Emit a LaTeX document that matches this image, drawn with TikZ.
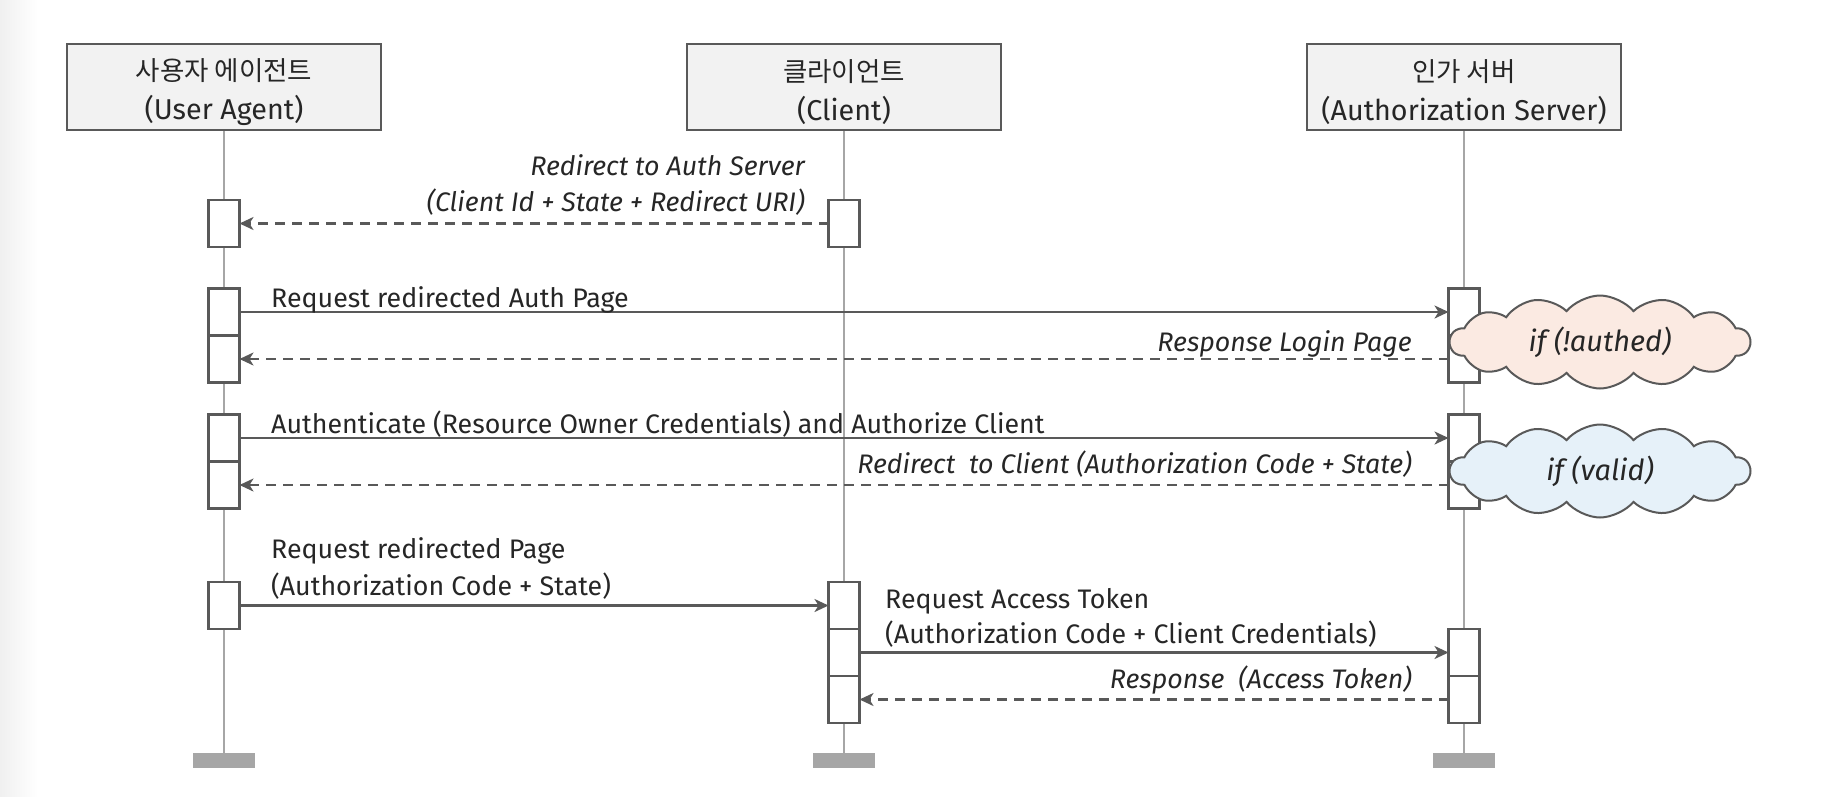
\documentclass[tikz,border=0pt]{standalone}
\usepackage{fontspec}
\setmainfont{Fira Sans}
\newfontfamily\kofont{Noto Sans CJK KR}
\usetikzlibrary{arrows.meta,positioning,shapes.symbols}
\definecolor{edge}{HTML}{595959}
\definecolor{lifec}{HTML}{A6A6A6}
\definecolor{headc}{HTML}{F2F2F2}
\definecolor{ink}{HTML}{262626}
\definecolor{cloudA}{HTML}{FBEAE2}
\definecolor{cloudB}{HTML}{E6F1F9}
\newcommand\txt{\fontsize{26.8}{37}\selectfont}
\newcommand\headtxt{\fontsize{28.7}{39}\selectfont}
\newcommand\kotxt{\kofont\fontsize{26.5}{39}\selectfont}

\begin{document}
\begin{tikzpicture}[x=1pt,y=-1pt,font=\txt,text=ink]

		\tikzset{actor/.style={draw=edge,line width=2pt,fill=headc,minimum width=314pt,minimum height=86pt,align=center,inner sep=0pt,font=\headtxt},
			bar/.style={fill=lifec,minimum width=62pt,minimum height=15pt,inner sep=0pt},
			act/.style={draw=edge,line width=2.2pt,fill=white,minimum width=31pt,minimum height=47pt,inner sep=0pt,outer sep=0pt},
			lifeline/.style={draw=lifec,line width=2pt},
			call/.style={draw=edge,line width=2.2pt,-{Stealth[length=14pt,width=13pt,inset=4pt]}},
			ret/.style={call,dash pattern=on 10pt off 7pt},
			lbl/.style={inner sep=0pt},
			ital/.style={inner sep=0pt,font=\txt\itshape},
			note/.style={cloud,draw=edge,line width=2pt,cloud puffs=14,cloud puff arc=100,aspect=3.75,minimum width=300pt,minimum height=93pt,inner sep=0pt,font=\fontsize{29}{34}\selectfont\itshape}}
		\useasboundingbox (0,0) rectangle (1846,796);
		\shade[left color=black!6,right color=white] (0,0) rectangle (38,796);

	    \node[actor] (ua) at (224,87) {\rule{0pt}{32pt}{\kotxt 사용자 에이전트}\\(User Agent)};
	    \node[actor] (cl) at (844,87) {\rule{0pt}{32pt}{\kotxt 클라이언트}\\(Client)};
	    \node[actor] (as) at (1464,87) {\rule{0pt}{32pt}{\kotxt 인가 서버}\\(Authorization Server)};
	    \node[bar] (uabar) at (224,760.5) {};
	    \node[bar] (clbar) at (844,760.5) {};
	    \node[bar] (asbar) at (1464,760.5) {};
	    \draw[lifeline] (ua) -- (uabar);
	    \draw[lifeline] (cl) -- (clbar);
	    \draw[lifeline] (as) -- (asbar);

	    \node[act] (ua1) at (224,223.5) {};
	    \node[act] (cl1) at (844,223.5) {};
	    \node[act] (ua2a) at (224,312) {};
	    \node[act,below=0pt of ua2a] (ua2b) {};
	    \node[act] (as2a) at (1464,312) {};
	    \node[act,below=0pt of as2a] (as2b) {};
	    \node[act] (ua4a) at (224,438) {};
	    \node[act,below=0pt of ua4a] (ua4b) {};
	    \node[act] (as4a) at (1464,438) {};
	    \node[act,below=0pt of as4a] (as4b) {};
	    \node[act] (ua6) at (224,605.5) {};
	    \node[act] (cl6a) at (844,605.5) {};
	    \node[act,below=0pt of cl6a] (cl6b) {};
	    \node[act,below=0pt of cl6b] (cl6c) {};
	    \node[act,right=589pt of cl6b] (as7a) {};
	    \node[act,below=0pt of as7a] (as7b) {};

	    \draw[ret] (cl1) -- (ua1);
	    \draw[call] (ua2a) -- (as2a);
	    \draw[ret] (as2b) -- (ua2b);
	    \draw[call] (ua4a) -- (as4a);
	    \draw[ret] (as4b) -- (ua4b);
	    \draw[call] (ua6) -- (cl6a);
	    \draw[call] (cl6b) -- (as7a);
	    \draw[ret] (as7b) -- (cl6c);

	    \node[ital,anchor=base east] (m1a) at (805,175) {Redirect to Auth Server};
	    \node[ital,anchor=base east] (m1b) at (805,211) {(Client Id + State + Redirect URI)};
	    \node[lbl,anchor=base west] (m2) at (271,307) {Request redirected Auth Page};
	    \node[ital,anchor=base east] (m3) at (1412,351) {Response Login Page};
	    \node[lbl,anchor=base west] (m4) at (271,433) {Authenticate (Resource Owner Credentials) and Authorize Client};
	    \node[ital,anchor=base east] (m5) at (1412,473) {Redirect\ \ to Client (Authorization Code + State)};
	    \node[lbl,anchor=base west] (m6a) at (271,558) {Request redirected Page};
	    \node[lbl,anchor=base west] (m6b) at (271,595) {(Authorization Code + State)};
	    \node[lbl,anchor=base west] (m7a) at (885,608) {Request Access Token};
	    \node[lbl,anchor=base west] (m7b) at (885,643) {(Authorization Code + Client Credentials)};
	    \node[ital,anchor=base east] (m8) at (1412,688) {Response\ \ (Access Token)};

	    \node[note,fill=cloudA] (authed) at (1600,342) {if (!authed)};
	    \node[note,fill=cloudB] (valid) at (1600,471) {if (valid)};

	\end{tikzpicture}
\end{document}
